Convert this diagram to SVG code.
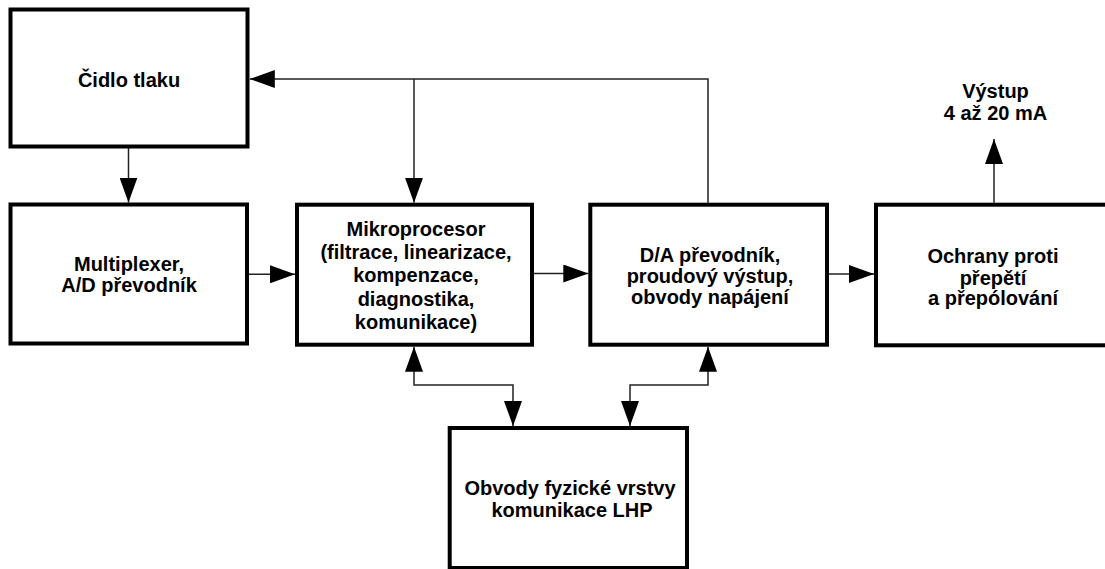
<svg xmlns="http://www.w3.org/2000/svg" width="1105" height="569" viewBox="0 0 1105 569">
<style>
.box{fill:#fff;stroke:#000;stroke-width:4}
.t{font-family:"Liberation Sans",Arial,sans-serif;font-weight:bold;font-size:20px;fill:#000;text-anchor:middle}
.c{fill:none;stroke:#222;stroke-width:1.5}
</style>
<defs>
<marker id="ah" markerUnits="userSpaceOnUse" markerWidth="26" markerHeight="18" refX="25" refY="9" orient="auto-start-reverse">
<path d="M0,0 L25,9 L0,18 z" fill="#000"/>
</marker>
</defs>
<rect width="1105" height="569" fill="#fff"/>
<g id="connectors">
<path class="c" d="M128.5,148 V202.5" marker-end="url(#ah)"/>
<path class="c" d="M248,274.3 H295" marker-end="url(#ah)"/>
<path class="c" d="M534,273.5 H588.3" marker-end="url(#ah)"/>
<path class="c" d="M829,274 H874" marker-end="url(#ah)"/>
<path class="c" d="M994,202.7 V139" marker-end="url(#ah)"/>
<path class="c" d="M708,202.7 V79 H249.8" marker-end="url(#ah)"/>
<path class="c" d="M414,79 V202.7" marker-end="url(#ah)"/>
<path class="c" d="M414,346.7 V385 H513 V426" marker-start="url(#ah)" marker-end="url(#ah)"/>
<path class="c" d="M708,346.7 V385 H630 V426" marker-start="url(#ah)" marker-end="url(#ah)"/>
</g>
<g id="cidlo">
<rect class="box" x="10.5" y="9.5" width="237" height="137"/>
<text class="t" x="129" y="87">Čidlo tlaku</text>
</g>
<g id="multiplexer">
<rect class="box" x="10.5" y="204.5" width="236.5" height="139"/>
<text class="t" x="129" y="270.7">Multiplexer,</text>
<text class="t" x="129" y="291.7">A/D převodník</text>
</g>
<g id="mikroprocesor">
<rect class="box" x="297" y="204.7" width="235" height="140"/>
<text class="t" x="416" y="236">Mikroprocesor</text>
<text class="t" x="416" y="259">(filtrace, linearizace,</text>
<text class="t" x="416" y="282.3">kompenzace,</text>
<text class="t" x="416" y="305.6">diagnostika,</text>
<text class="t" x="416" y="328.5">komunikace)</text>
</g>
<g id="da">
<rect class="box" x="590.3" y="204.7" width="236.7" height="140"/>
<text class="t" x="710" y="261.7">D/A převodník,</text>
<text class="t" x="710" y="282.7">proudový výstup,</text>
<text class="t" x="710" y="303.5">obvody napájení</text>
</g>
<g id="ochrany">
<rect class="box" x="876" y="204.7" width="240" height="140.6"/>
<text class="t" x="993" y="263.3">Ochrany proti</text>
<text class="t" x="993" y="284.5">přepětí</text>
<text class="t" x="993" y="305">a přepólování</text>
</g>
<g id="vystup">
<text class="t" x="995.5" y="98">Výstup</text>
<text class="t" x="995.5" y="120">4 až 20 mA</text>
</g>
<g id="obvody">
<rect class="box" x="449.7" y="428" width="237.3" height="140"/>
<text class="t" x="570" y="495">Obvody fyzické vrstvy</text>
<text class="t" x="572" y="516.7">komunikace LHP</text>
</g>
</svg>
